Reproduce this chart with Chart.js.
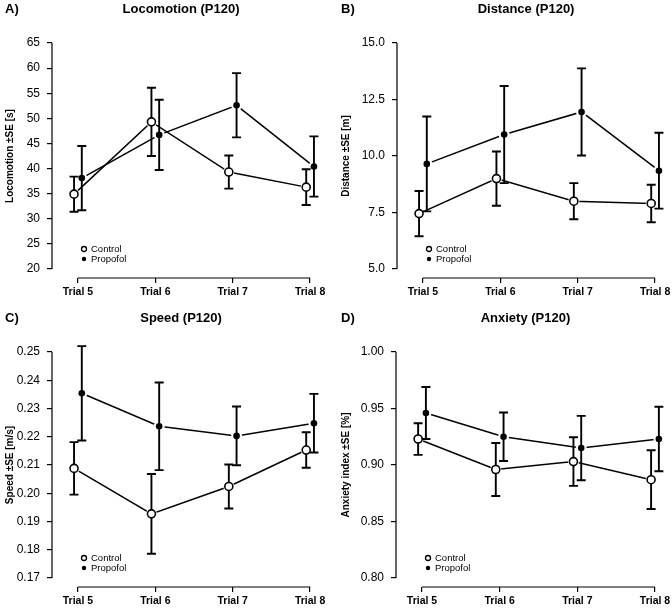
<!DOCTYPE html>
<html>
<head>
<meta charset="utf-8">
<script src="https://cdn.jsdelivr.net/npm/chart.js@4.4.1/dist/chart.umd.min.js"></script>
<style>
  html, body { margin: 0; padding: 0; background: #fff; overflow: hidden; width: 672px; height: 614px; }
  canvas { position: absolute; }
</style>
</head>
<body>
<canvas id="locoChart" style="left:0;top:0" width="336" height="307"></canvas>
<canvas id="distChart" style="left:336px;top:0" width="345" height="307"></canvas>
<canvas id="speedChart" style="left:0;top:309px" width="336" height="305"></canvas>
<canvas id="anxChart" style="left:336px;top:309px" width="345" height="305"></canvas>
<script>
const trials = ['Trial 5', 'Trial 6', 'Trial 7', 'Trial 8'];
const groups = ['Control', 'Propofol'];

// Locomotion [s]
const locoControl = [34.9, 49.3, 39.3, 36.3];
const locoControlSE = [3.5, 6.8, 3.3, 3.55];
const locoPropofol = [38.1, 46.7, 52.6, 40.4];
const locoPropofolSE = [6.4, 7.0, 6.4, 6.0];
const locoTicks = [20, 25, 30, 35, 40, 45, 50, 55, 60, 65];

// Distance [m]
const distControl = [7.45, 9.0, 8.0, 7.9];
const distControlSE = [1.0, 1.2, 0.8, 0.83];
const distPropofol = [9.65, 10.95, 11.95, 9.35];
const distPropofolSE = [2.1, 2.15, 1.93, 1.68];
const distTicks = [5.0, 7.5, 10.0, 12.5, 15.0];

// Speed [m/s]
const speedControl = [0.2088, 0.1927, 0.2024, 0.2153];
const speedControlSE = [0.0093, 0.0141, 0.0078, 0.0063];
const speedPropofol = [0.2354, 0.2237, 0.2203, 0.2248];
const speedPropofolSE = [0.0167, 0.0155, 0.0104, 0.0104];
const speedTicks = [0.17, 0.18, 0.19, 0.20, 0.21, 0.22, 0.23, 0.24, 0.25];

// Anxiety index
const anxControl = [0.923, 0.896, 0.903, 0.887];
const anxControlSE = [0.014, 0.0235, 0.0215, 0.026];
const anxPropofol = [0.946, 0.925, 0.915, 0.923];
const anxPropofolSE = [0.023, 0.0215, 0.0285, 0.0285];
const anxTicks = [0.80, 0.85, 0.90, 0.95, 1.00];

const dodge = 0.05;
const FONT = 'Liberation Sans, Arial, sans-serif';

// R-like drawing: gaps round points, error bars, detached axes, titles, legend
const rStyle = {
  id: 'rStyle',
  afterDatasetDraw(chart, args) {
    const ctx = chart.ctx;
    ctx.save();
    ctx.fillStyle = '#fff';
    args.meta.data.forEach(pt => {
      ctx.beginPath();
      ctx.arc(pt.x, pt.y, 5.5, 0, Math.PI * 2);
      ctx.fill();
    });
    ctx.restore();
  },
  afterDatasetsDraw(chart) {
    const ctx = chart.ctx;
    const y = chart.scales.y;
    ctx.save();
    chart.data.datasets.forEach((ds, di) => {
      const meta = chart.getDatasetMeta(di);
      ctx.strokeStyle = '#000';
      ctx.lineWidth = 1.9;
      meta.data.forEach((pt, i) => {
        const v = ds.data[i].y, se = ds.se[i];
        const top = y.getPixelForValue(v + se), bot = y.getPixelForValue(v - se);
        ctx.beginPath();
        ctx.moveTo(pt.x, top); ctx.lineTo(pt.x, bot);
        ctx.moveTo(pt.x - 4.5, top); ctx.lineTo(pt.x + 4.5, top);
        ctx.moveTo(pt.x - 4.5, bot); ctx.lineTo(pt.x + 4.5, bot);
        ctx.stroke();
      });
    });
    chart.data.datasets.forEach((ds, di) => {
      const meta = chart.getDatasetMeta(di);
      meta.data.forEach(pt => {
        ctx.beginPath();
        if (ds.open) {
          ctx.arc(pt.x, pt.y, 4, 0, Math.PI * 2);
          ctx.fillStyle = '#fff';
          ctx.fill();
          ctx.lineWidth = 1.6;
          ctx.stroke();
        } else {
          ctx.arc(pt.x, pt.y, 3.3, 0, Math.PI * 2);
          ctx.fillStyle = '#000';
          ctx.fill();
        }
      });
    });
    ctx.restore();
  },
  afterDraw(chart, args, opts) {
    const ctx = chart.ctx;
    const area = chart.chartArea;
    const x = chart.scales.x, y = chart.scales.y;
    const yt = opts.ticks;
    ctx.save();
    ctx.strokeStyle = '#000';
    ctx.lineWidth = 1.2;
    ctx.beginPath();
    ctx.moveTo(area.left, y.getPixelForValue(yt[0]));
    ctx.lineTo(area.left, y.getPixelForValue(yt[yt.length - 1]));
    ctx.moveTo(x.getPixelForValue(1), area.bottom);
    ctx.lineTo(x.getPixelForValue(trials.length), area.bottom);
    ctx.stroke();

    ctx.fillStyle = '#000';
    ctx.textBaseline = 'middle';
    ctx.font = 'bold 13px ' + FONT;
    ctx.textAlign = 'left';
    ctx.fillText(opts.letter, 5, 9);
    ctx.textAlign = 'center';
    ctx.fillText(opts.title, (area.left + x.getPixelForValue(trials.length)) / 2, 9);

    ctx.save();
    ctx.translate(10, (area.top + area.bottom) / 2);
    ctx.rotate(-Math.PI / 2);
    ctx.font = 'bold 10px ' + FONT;
    ctx.fillText(opts.yTitle, 0, 0);
    ctx.restore();

    // legend
    const lx = area.left + 32;
    ctx.font = '9.5px ' + FONT;
    ctx.textAlign = 'left';
    chart.data.datasets.forEach((ds, di) => {
      const ly = area.bottom - 29 + di * 10;
      ctx.beginPath();
      if (ds.open) {
        ctx.arc(lx, ly, 2.5, 0, Math.PI * 2);
        ctx.fillStyle = '#fff';
        ctx.fill();
        ctx.lineWidth = 1.3;
        ctx.stroke();
      } else {
        ctx.arc(lx, ly, 2.2, 0, Math.PI * 2);
        ctx.fillStyle = '#000';
        ctx.fill();
      }
      ctx.fillStyle = '#000';
      ctx.fillText(ds.label, lx + 7, ly + 0.5);
    });
    ctx.restore();
  }
};

function makePanel(id, letter, title, yTitle, yTicks, decimals, axisLeft, ctrl, ctrlSE, prop, propSE) {
  const range = yTicks[yTicks.length - 1] - yTicks[0];
  const ctx = document.getElementById(id).getContext('2d');
  return new Chart(ctx, {
    type: 'line',
    data: {
      datasets: [
        {
          label: groups[0],
          data: ctrl.map((v, i) => ({ x: i + 1 - dodge, y: v })),
          se: ctrlSE,
          open: true,
          borderColor: '#000',
          borderWidth: 1.5,
          pointRadius: 0,
          pointHoverRadius: 0,
          tension: 0,
          fill: false
        },
        {
          label: groups[1],
          data: prop.map((v, i) => ({ x: i + 1 + dodge, y: v })),
          se: propSE,
          open: false,
          borderColor: '#000',
          borderWidth: 1.5,
          pointRadius: 0,
          pointHoverRadius: 0,
          tension: 0,
          fill: false
        }
      ]
    },
    options: {
      responsive: false,
      animation: false,
      events: [],
      layout: { padding: { top: 34, left: 0, right: 0, bottom: 0 } },
      scales: {
        x: {
          type: 'linear',
          min: 0.665,
          max: trials.length + 0.335,
          afterBuildTicks: s => { s.ticks = trials.map((t, i) => ({ value: i + 1 })); },
          afterFit: s => { s.height = s.chart.height - 278; },
          ticks: {
            callback: (v, i) => trials[i],
            font: { family: FONT, size: 10.5, weight: 'bold' },
            color: '#000',
            padding: 3,
            maxRotation: 0,
            autoSkip: false
          },
          grid: { drawOnChartArea: false, drawTicks: true, tickLength: 5, color: '#000', lineWidth: 1.2 },
          border: { display: false }
        },
        y: {
          type: 'linear',
          min: yTicks[0] - 0.04 * range,
          max: yTicks[yTicks.length - 1] + 0.04 * range,
          afterBuildTicks: s => { s.ticks = yTicks.map(v => ({ value: v })); },
          afterFit: s => { s.width = axisLeft; },
          ticks: {
            callback: (v, i) => yTicks[i].toFixed(decimals),
            font: { family: FONT, size: 12 },
            color: '#000',
            padding: 7,
            autoSkip: false
          },
          grid: { drawOnChartArea: false, drawTicks: true, tickLength: 5, color: '#000', lineWidth: 1.2 },
          border: { display: false }
        }
      },
      plugins: {
        legend: { display: false },
        title: { display: false },
        tooltip: { enabled: false },
        rStyle: { letter: letter, title: title, yTitle: yTitle, ticks: yTicks }
      }
    },
    plugins: [rStyle]
  });
}

makePanel('locoChart', 'A)', 'Locomotion (P120)', 'Locomotion \u00b1SE [s]', locoTicks, 0, 52,
  locoControl, locoControlSE, locoPropofol, locoPropofolSE);
makePanel('distChart', 'B)', 'Distance (P120)', 'Distance \u00b1SE [m]', distTicks, 1, 61,
  distControl, distControlSE, distPropofol, distPropofolSE);
makePanel('speedChart', 'C)', 'Speed (P120)', 'Speed \u00b1SE [m/s]', speedTicks, 2, 52,
  speedControl, speedControlSE, speedPropofol, speedPropofolSE);
makePanel('anxChart', 'D)', 'Anxiety (P120)', 'Anxiety index \u00b1SE [%]', anxTicks, 2, 60,
  anxControl, anxControlSE, anxPropofol, anxPropofolSE);
</script>
</body>
</html>
